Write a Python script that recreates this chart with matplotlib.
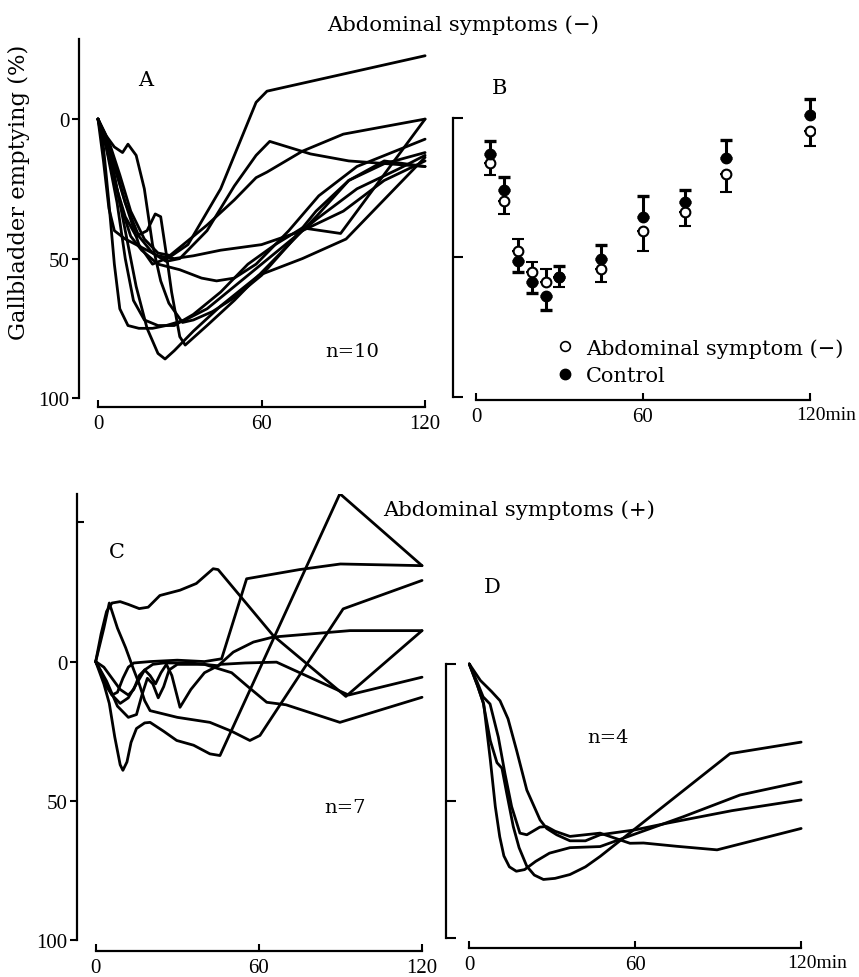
import matplotlib
matplotlib.use('Agg')
import matplotlib.pyplot as plt
from matplotlib.lines import Line2D

plt.rcParams['font.family'] = ['Liberation Serif', 'DejaVu Serif']
TXT = ['DejaVu Serif', 'Liberation Serif']

# ---------------- data ----------------
# Panel A: abdominal symptoms (-), individual curves (time min, emptying %)
A1 = [(0,0),(4,8),(8,20),(12,33),(17,43),(22,48),(27,49),(33,45),(45,25),(58,-6),(62,-10),(120,-22.7)]
A2 = [(0,0),(5,12),(10,30),(15,42),(20,48),(25,51),(30,50),(40,40),(50,24),(58,13),(63,8),(78,12.5),(92,15),(120,17)]
A3 = [(0,0),(5,14),(10,30),(15,45),(20,52),(25,50),(30,46),(40,38),(50,29),(58,21),(62,19),(75,11.5),(90,5.4),(120,0)]
A4 = [(0,0),(3,10),(7,30),(10,50),(13,65),(17,72),(22,74),(28,74),(35,70),(45,62),(55,52),(65,45),(75,39),(89,41),(120,0)]
A5 = [(0,0),(3,8),(6,20),(10,40),(14,60),(18,75),(22,84),(24.6,86),(28,83),(35,76),(45,67),(59,56),(75,50),(91,43),(120,13.7)]
A6 = [(0,0),(4,12),(8,30),(12,42),(16,47),(22,52),(30,54),(38,57),(43.5,58),(50,57),(58,52),(70,40),(81,27.5),(95,17),(120,7.2)]
A7 = [(0,0),(2,15),(4,32),(6,40),(10,43),(16,46),(22,49),(28,50),(35,49),(45,47),(60,45),(75,40),(90,33),(105,22),(120,15)]
A8 = [(0,0),(2,10),(4,30),(6,52),(8,68),(11,74),(15,75),(20,75),(25,74),(32,72),(40,68),(50,60),(60,52),(70,44),(80,36),(95,25),(110,18),(120,13)]
A9 = [(0,0),(3,6),(6,10),(9,12),(11,9),(14,13),(17,25),(20,45),(23,58),(26,66),(31,72.9),(35,72),(42,69),(50,64),(60,56),(70,45),(80,33),(92,22),(105,16),(120,12)]
A10 = [(0,0),(3,10),(6,22),(10,35),(14,42),(18,40),(21,34),(23,35),(25,48),(27,62),(30,78),(32,81),(40,74),(50,65),(60,55),(70,45),(80,35),(92,22),(105,15),(120,17)]

# Panel B: mean values with SD
B_time = [5, 10, 15, 20, 25, 30, 45, 60, 75, 90, 120]
B_sym_mean = [16.1, 29.9, 47.8, 55.3, 58.9, 57.0, 54.0, 40.4, 33.7, 20.1, 4.8]
B_sym_sd = [4.4, 4.5, 4.4, 3.7, 4.9, 3.6, 4.8, 7.2, 5.1, 6.4, 5.3]
B_ctrl_mean = [12.8, 25.9, 51.4, 58.9, 63.9, 57.0, 50.5, 35.6, 30.2, 14.3, -1.2]
B_ctrl_sd = [4.4, 4.6, 3.9, 3.8, 5.0, 3.8, 4.9, 7.5, 4.2, 6.3, 5.7]

# Panel C: abdominal symptoms (+)
C1 = [(0,0),(3,8),(5,15),(7,27),(9,37),(10,39),(11.5,36),(13,29),(15,24),(18,22),(20,21.8),(25,25),(29.8,28.3),(36,30),(42,33.1),(45.7,33.7),(89.8,-60.2),(120,-34.4)]
C2 = [(0,0),(3,-12),(5,-21),(8,-12),(11,-5),(14,3),(16,8),(18,14),(20,17.6),(30,20),(42,21.8),(50,25),(56.7,28.3),(60.4,26.5),(91,-18.9),(120,-29.1)]
C3 = [(0,0),(2,-10),(4,-18),(6,-21),(9,-21.5),(12,-20.5),(16,-19),(19.3,-19.5),(23.6,-23.7),(31,-25.6),(37,-28),(43.2,-33.3),(45,-33),(65.3,-9.3),(92,12.5),(120,-11.1)]
C4 = [(0,0),(2,4),(4,9),(6,12),(8,11),(10,6),(12,2),(14,0.5),(20,0),(30,-0.5),(40,0),(46.3,-1),(55.5,-29.7),(75,-33),(90,-35),(120,-34.4)]
C5 = [(0,0),(3,6),(6,12),(9,15),(12,13),(15,8),(18,3),(21,1),(25,0.5),(35,0.5),(45,1.5),(50.6,-3.4),(58,-7),(65.3,-8.8),(93.5,-11.1),(120,-11.1)]
C6 = [(0,0),(3,2),(6,6),(9,10),(12,12),(14,10),(16,5),(18,3),(20,5),(22,8),(24,4),(26,1),(28,5),(31,16.4),(35,10),(40,4),(46,1),(55,0.5),(66.5,0.2),(93,12),(120,5.6)]
C7 = [(0,0),(4,7),(8,16),(12,20),(15,19),(17,12),(19,6),(21,8),(23,13),(25,9),(27,3),(30,1),(40,1),(50,4),(56,9),(62.9,14.6),(70,15.5),(89.8,21.8),(120,12.8)]

# Panel D
D1 = [(0,0),(3,8),(5,14),(7.6,28),(10,36),(11.8,38),(13.5,47),(15.9,59.3),(18,67),(20.8,73.8),(23.5,77),(26.8,78.6),(31,78.2),(36.4,76.8),(42,74),(47.3,70.2),(94.3,32.7),(120,28.5)]
D2 = [(0,0),(3,8),(5.2,14.6),(7.6,35),(9.4,52),(11,63),(12.5,70),(14.5,74),(17,75.6),(20,75),(24,72),(29,69),(36.4,67),(47.3,66.6),(60,62),(77.4,55.7),(97.9,47.8),(120,43)]
D3 = [(0,0),(4,6),(8,10),(11.1,13.4),(14,20),(17.1,31.5),(20.8,46),(25.6,56.9),(28,60),(31.6,62.3),(36.4,64.5),(42,64.5),(47.3,62.3),(60,60.5),(71.4,58.1),(95,53.5),(120,49.6)]
D4 = [(0,0),(3,7),(5,12),(7.5,14.6),(10.5,26.7),(12.9,40),(15.3,52),(18.3,61.7),(20.8,62.3),(23,61),(25.5,59.5),(27.9,59.3),(31,61),(36.4,62.9),(47.3,61.7),(58.1,65.4),(63,65.3),(75,66.5),(89.6,67.8),(120,60)]

panelA = [A1, A2, A3, A4, A5, A6, A7, A8, A9, A10]
panelC = [C1, C2, C3, C4, C5, C6, C7]
panelD = [D1, D2, D3, D4]

# ---------------- figure ----------------
W, H = 859, 978
fig = plt.figure(figsize=(W / 100, H / 100), dpi=100)
fig.patch.set_facecolor('white')

def add_ax(l, t, r, b):
    return fig.add_axes([l / W, 1 - b / H, (r - l) / W, (b - t) / H])

TICK_FS = 15
LW = 2.0

def base_style(ax):
    for s in ['top', 'right']:
        ax.spines[s].set_visible(False)
    for s in ['left', 'bottom']:
        ax.spines[s].set_linewidth(1.6)
    ax.spines['bottom'].set_bounds(0, 120)
    ax.set_xticks([0, 60, 120])
    ax.tick_params(axis='x', direction='in', length=5, width=1.5, pad=5, labelsize=TICK_FS)
    ax.patch.set_alpha(0)

def plot_lines(ax, lines):
    for ln in lines:
        ax.plot([p[0] for p in ln], [p[1] for p in ln], color='black', lw=LW,
                solid_joinstyle='round', solid_capstyle='round')

def ftext(x, y, s, size, **kw):
    fig.text(x / W, 1 - y / H, s, fontsize=size, ha=kw.pop('ha', 'center'), va='center',
             family=TXT, **kw)

def min_label(ax):
    ax.set_xticklabels(['0', '60', ''])
    ax.annotate('120min', xy=(120, 0), xycoords=('data', 'axes fraction'),
                xytext=(-10, -4.6), textcoords='offset points', ha='left', va='top', fontsize=14)

# Panel A
axA = add_ax(79, 40, 430, 408)
axA.set_xlim(-6.97, 121.8)
axA.set_ylim(103.2, -28.7)
base_style(axA)
axA.spines['left'].set_bounds(-28.7, 100)
axA.set_yticks([0, 50, 100])
axA.tick_params(axis='y', direction='out', length=5, width=1.5, pad=2, labelsize=TICK_FS)
plot_lines(axA, panelA)
ftext(146, 80, 'A', 15)
ftext(352, 352, 'n=10', 14)

# Panel B
axB = add_ax(453, 40, 815, 401)
axB.set_xlim(-8.26, 121.8)
axB.set_ylim(101.1, -28.3)
base_style(axB)
axB.spines['left'].set_bounds(0, 100)
axB.set_yticks([0, 50, 100])
axB.set_yticklabels([])
axB.tick_params(axis='y', direction='in', length=7, width=1.5)
min_label(axB)

sym_lo, sym_hi, ctrl_lo, ctrl_hi = [], [], [], []
for sm, ss, cm, cs in zip(B_sym_mean, B_sym_sd, B_ctrl_mean, B_ctrl_sd):
    if sm >= cm:
        sym_lo.append(0); sym_hi.append(ss)
        ctrl_lo.append(cs); ctrl_hi.append(0)
    else:
        sym_lo.append(ss); sym_hi.append(0)
        ctrl_lo.append(0); ctrl_hi.append(cs)
axB.errorbar(B_time, B_sym_mean, yerr=[sym_lo, sym_hi], fmt='o', ms=7, mfc='white', mec='black',
             mew=1.5, ecolor='black', elinewidth=2.2, capsize=4, capthick=2.4, zorder=3)
axB.errorbar(B_time, B_ctrl_mean, yerr=[ctrl_lo, ctrl_hi], fmt='o', ms=7.5, mfc='black', mec='black',
             ecolor='black', elinewidth=2.2, capsize=4, capthick=2.4, zorder=4)
handles = [Line2D([], [], ls='none', marker='o', ms=7, mfc='white', mec='black', mew=1.2),
           Line2D([], [], ls='none', marker='o', ms=7.5, mfc='black', mec='black')]
fig.legend(handles, ['Abdominal symptom (\u2212)', 'Control'], loc='upper left',
           bbox_to_anchor=(555 / W, 1 - 339 / H), frameon=False,
           prop={'family': TXT, 'size': 15},
           handlelength=1.0, handletextpad=0.5, labelspacing=0.42, borderpad=0, borderaxespad=0)
ftext(499, 88, 'B', 15)

# Panel C
axC = add_ax(77, 495, 428, 952)
axC.set_xlim(-6.875, 122.2)
axC.set_ylim(103.8, -60.1)
base_style(axC)
axC.spines['left'].set_bounds(-60.1, 100)
axC.set_yticks([0, 50, 100])
axC.set_yticks([-50], minor=True)
axC.tick_params(axis='y', which='major', direction='out', length=5, width=1.5, pad=2, labelsize=TICK_FS)
axC.tick_params(axis='y', which='minor', direction='in', length=5, width=1.5)
plot_lines(axC, panelC)
ftext(117, 553, 'C', 15)
ftext(345, 808, 'n=7', 14)

# Panel D
axD = add_ax(446, 495, 805, 949)
axD.set_xlim(-8.43, 121.4)
axD.set_ylim(103.6, -62.0)
base_style(axD)
axD.spines['left'].set_bounds(0, 100)
axD.set_yticks([0, 50, 100])
axD.set_yticklabels([])
axD.tick_params(axis='y', direction='in', length=7, width=1.5)
min_label(axD)
plot_lines(axD, panelD)
ftext(492, 588, 'D', 15)
ftext(608, 738, 'n=4', 14)

# Titles / labels
ftext(463, 25, 'Abdominal symptoms (\u2212)', 15.3)
ftext(383, 510, 'Abdominal symptoms (+)', 15.3, ha='left')
ftext(19, 192, 'Gallbladder emptying (%)', 16.3, rotation=90)

fig.savefig('out.png', dpi=100, facecolor='white')
